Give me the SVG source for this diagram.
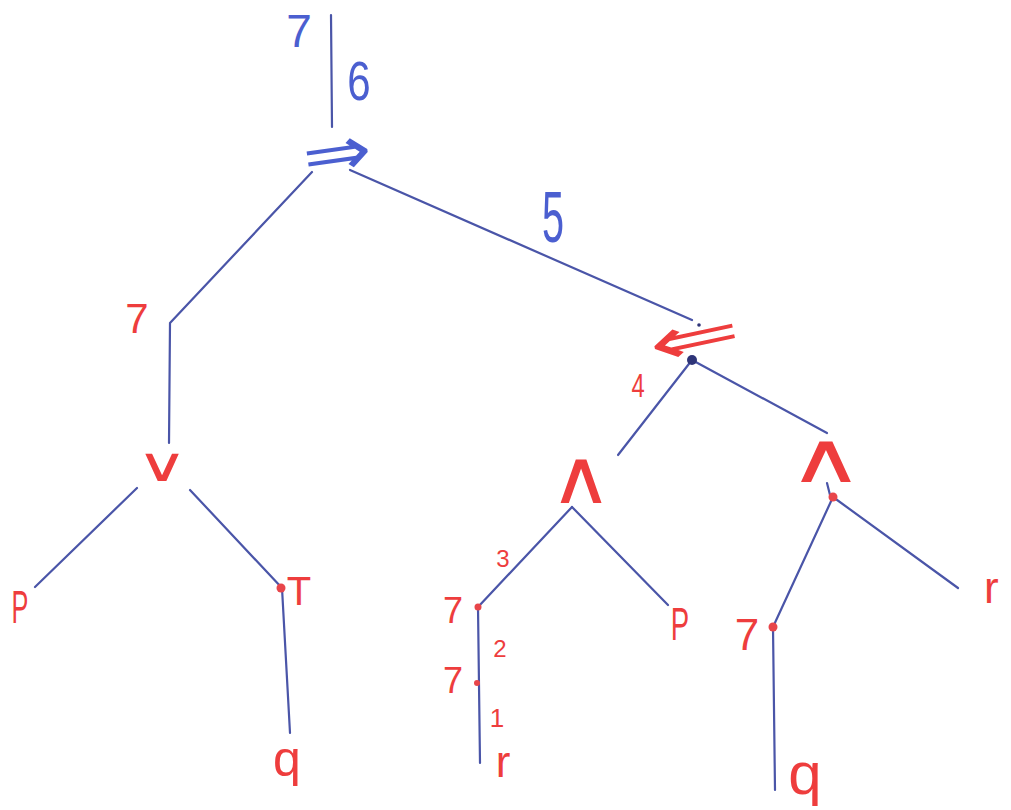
<svg xmlns="http://www.w3.org/2000/svg" width="1011" height="810" viewBox="0 0 1011 810">
<style>
.edge{stroke:#4a55a8;stroke-width:2.2;fill:none;stroke-linecap:round;stroke-linejoin:round}
.bl{fill:#4b5fd0;font-family:"Liberation Sans",Arial,sans-serif}
.rd{fill:#ee3d3d;font-family:"Liberation Sans",Arial,sans-serif}
.sym{font-family:"DejaVu Sans",sans-serif}
.rdot{fill:#e8454a}
.bdot{fill:#2e3478}
</style>
<rect width="1011" height="810" fill="#ffffff"/>
<g id="connectors">
<path class="edge" d="M331,15 L332,127"/>
<path class="edge" d="M312,172 L170,323 L169,443"/>
<path class="edge" d="M350,170 L692,320"/>
<path class="edge" d="M692,360 L618,455"/>
<path class="edge" d="M692,360 L827,433"/>
<path class="edge" d="M137,488 L35,587"/>
<path class="edge" d="M190,490 L282,588 L290,733"/>
<path class="edge" d="M572,507 L478,607 L480,763"/>
<path class="edge" d="M572,507 L668,605"/>
<path class="edge" d="M833,497 L773,627 L775,790"/>
<path class="edge" d="M833,497 L958,588"/>
<path class="edge" d="M827,483 L830,495"/>
</g>
<g id="root">
<text class="bl" x="299" y="47" font-size="46" text-anchor="middle">7</text>
<text class="bl" transform="translate(359,100) scale(0.75,1)" font-size="56" text-anchor="middle">6</text>
</g>
<g id="implies">
<text class="bl sym" transform="translate(337,153) rotate(-8) scale(1.5,1.25)" font-size="55" text-anchor="middle" dominant-baseline="central">⇒</text>
<text class="bl" transform="translate(553,242) scale(0.55,1)" font-size="72" text-anchor="middle">5</text>
</g>
<g id="equiv">
<circle class="bdot" cx="699" cy="325" r="1.8"/>
<text class="rd sym" transform="translate(694,337) rotate(-12) scale(2,1.2)" font-size="55" text-anchor="middle" dominant-baseline="central">⇐</text>
<circle class="bdot" cx="692" cy="360" r="5"/>
<text class="rd" transform="translate(638,397) scale(0.7,1)" font-size="34" text-anchor="middle">4</text>
</g>
<g id="not-left">
<text class="rd" x="137" y="333" font-size="42" text-anchor="middle">7</text>
</g>
<g id="or">
<text class="rd sym" transform="translate(162,481) scale(1.5,1)" font-size="47" text-anchor="middle">∨</text>
</g>
<g id="p-left">
<text class="rd" transform="translate(20,623) scale(0.55,1)" font-size="46" text-anchor="middle">P</text>
</g>
<g id="top">
<circle class="rdot" cx="281" cy="588" r="4.5"/>
<text class="rd" x="299" y="605" font-size="40" text-anchor="middle">T</text>
</g>
<g id="q-left">
<text class="rd" x="287" y="776" font-size="50" text-anchor="middle">q</text>
</g>
<g id="and-left">
<text class="rd sym" transform="translate(581,503) scale(1.15,1)" font-size="75" text-anchor="middle">∧</text>
<text class="rd" x="503" y="567" font-size="24" text-anchor="middle">3</text>
</g>
<g id="not-a">
<circle class="rdot" cx="478" cy="607" r="3.5"/>
<text class="rd" x="453" y="623" font-size="36" text-anchor="middle">7</text>
<text class="rd" x="500" y="657" font-size="24" text-anchor="middle">2</text>
</g>
<g id="not-b">
<circle class="rdot" cx="477" cy="683" r="3"/>
<text class="rd" x="453" y="693" font-size="36" text-anchor="middle">7</text>
<text class="rd" x="497" y="727" font-size="26" text-anchor="middle">1</text>
</g>
<g id="r-mid">
<text class="rd" x="503" y="777" font-size="44" text-anchor="middle">r</text>
</g>
<g id="p-mid">
<text class="rd" transform="translate(680,640) scale(0.6,1)" font-size="46" text-anchor="middle">P</text>
</g>
<g id="and-right">
<circle class="rdot" cx="833" cy="497" r="4.5"/>
<text class="rd sym" transform="translate(826,482) scale(1.5,1)" font-size="70" text-anchor="middle">∧</text>
</g>
<g id="r-right">
<text class="rd" x="984" y="603" font-size="44">r</text>
</g>
<g id="not-c">
<circle class="rdot" cx="773" cy="627" r="4.5"/>
<text class="rd" x="747" y="650" font-size="44" text-anchor="middle">7</text>
</g>
<g id="q-right">
<text class="rd" x="805" y="794" font-size="60" text-anchor="middle">q</text>
</g>
</svg>
